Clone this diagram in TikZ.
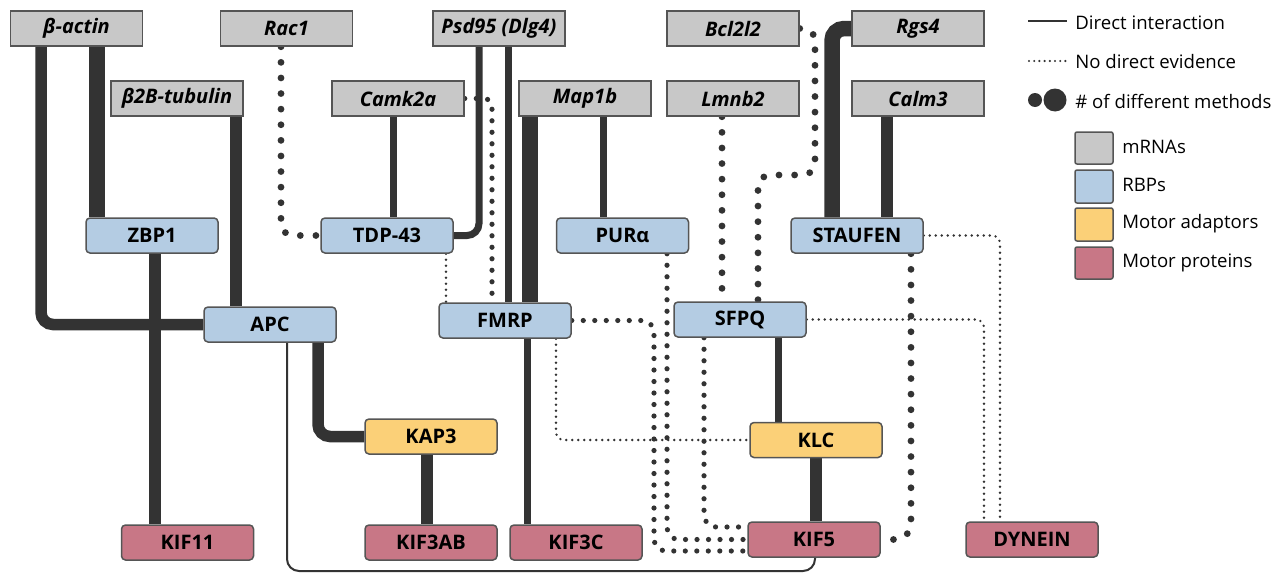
\documentclass[tikz,border=0pt]{standalone}
\usepackage{fontspec}
\setmainfont{Open Sans}
\usetikzlibrary{backgrounds}

\definecolor{mrnagray}{HTML}{C8C8C8}
\definecolor{rbpblue}{HTML}{B4CCE3}
\definecolor{adaptyellow}{HTML}{FBD078}
\definecolor{motorpink}{HTML}{C87786}
\definecolor{boxline}{HTML}{555555}
\definecolor{linkgray}{HTML}{333333}

\begin{document}
\begin{tikzpicture}[x=0.5pt,y=-0.5pt,
    box/.style={draw=boxline,line width=0.75pt,minimum width=66pt,minimum height=17.5pt,inner sep=0pt,
        font=\fontsize{10}{11}\selectfont\bfseries},
    mrna/.style={box,fill=mrnagray,font=\fontsize{10}{11}\selectfont\bfseries\itshape},
    rbp/.style={box,fill=rbpblue,rounded corners=2pt},
    adaptor/.style={box,fill=adaptyellow,rounded corners=2pt},
    motor/.style={box,fill=motorpink,rounded corners=2pt},
    fine/.style={draw=linkgray,line width=1pt},
    mid/.style={draw=linkgray,line width=3.5pt},
    wide/.style={draw=linkgray,line width=5.75pt},
    xwide/.style={draw=linkgray,line width=7.75pt},
    dotA/.style={draw=linkgray,line width=1.3pt,line cap=round,dash pattern=on 0pt off 3pt},
    dotB/.style={draw=linkgray,line width=2.6pt,line cap=round,dash pattern=on 0pt off 5.75pt},
    dotC/.style={draw=linkgray,line width=3.4pt,line cap=round,dash pattern=on 0pt off 7.8pt},
    legtext/.style={anchor=west,inner sep=0pt,font=\fontsize{9.3}{11}\selectfont}]

    \useasboundingbox (0,0) rectangle (1281,573);

    % mRNA 节点
    \node[mrna] (bactin) at (76.5,28.5) {β-actin};
    \node[mrna] (rac) at (286.5,28.5) {Rac1};
    \node[mrna] (psd) at (499,28.5) {Psd95 (Dlg4)};
    \node[mrna] (bcl) at (733,28.5) {Bcl2l2};
    \node[mrna] (rgs) at (918,28.5) {Rgs4};
    \node[mrna] (btub) at (177,98.5) {β2B-tubulin};
    \node[mrna] (camk) at (398,98.5) {Camk2a};
    \node[mrna] (mapb) at (585,98.5) {Map1b};
    \node[mrna] (lmnb) at (733,98.5) {Lmnb2};
    \node[mrna] (calm) at (918,98.5) {Calm3};

    % RBP 节点
    \node[rbp] (zbp) at (152,235.5) {ZBP1};
    \node[rbp] (tdp) at (387,235.5) {TDP-43};
    \node[rbp] (pura) at (622.5,235.5) {PURα};
    \node[rbp] (stau) at (857,235.5) {STAUFEN};
    \node[rbp] (apc) at (270,324.5) {APC};
    \node[rbp] (fmrp) at (505,320.5) {FMRP};
    \node[rbp] (sfpq) at (740,319.5) {SFPQ};

    % 马达接头与马达蛋白
    \node[adaptor] (kap) at (431,436.5) {KAP3};
    \node[adaptor] (klc) at (816,440) {KLC};
    \node[motor] (kif11) at (187.5,542.5) {KIF11};
    \node[motor] (kif3ab) at (431,542.5) {KIF3AB};
    \node[motor] (kif3c) at (576,542.5) {KIF3C};
    \node[motor] (kif5) at (814,539.5) {KIF5};
    \node[motor] (dyn) at (1032,539.5) {DYNEIN};

    % 连接线
    \begin{scope}[on background layer]
        \draw[wide,rounded corners=6pt] (41,0 |- bactin.south) |- (apc.west);
        \draw[xwide] (97,0 |- bactin.south) -- (97,0 |- zbp.north);
        \draw[wide] (236,0 |- btub.south) -- (236,0 |- apc.north);
        \draw[wide] (155,0 |- zbp.south) -- (155,0 |- kif11.north);
        \draw[mid] (393,0 |- camk.south) -- (393,0 |- tdp.north);
        \draw[mid,rounded corners=6pt] (479,0 |- psd.south) |- (tdp.east);
        \draw[mid] (508,0 |- psd.south) -- (508,0 |- fmrp.north);
        \draw[xwide] (530,0 |- mapb.south) -- (530,0 |- fmrp.north);
        \draw[mid] (527,0 |- fmrp.south) -- (527,0 |- kif3c.north);
        \draw[mid] (603,0 |- mapb.south) -- (603,0 |- pura.north);
        \draw[xwide,rounded corners=6pt] (rgs.west) -| (832,0 |- stau.north);
        \draw[wide] (887,0 |- calm.south) -- (887,0 |- stau.north);
        \draw[wide,rounded corners=6pt] (318,0 |- apc.south) |- (kap.west);
        \draw[wide] (427,0 |- kap.south) -- (427,0 |- kif3ab.north);
        \draw[mid] (778,0 |- sfpq.south) -- (778,0 |- klc.north);
        \draw[wide] (816,0 |- klc.south) -- (816,0 |- kif5.north);
        \draw[fine,rounded corners=6pt] (287,0 |- apc.south) -- (287,571) -- (815,571) -- (815,0 |- kif5.south);

        \draw[dotC,rounded corners=6pt] (281,0 |- rac.south) |- (tdp.west);
        \draw[dotB,rounded corners=4pt] (camk.east) -| (492,0 |- fmrp.north);
        \draw[dotA] (446,0 |- tdp.south) -- (446,0 |- fmrp.north);
        \draw[dotC,rounded corners=6pt] (bcl.east) -| (815,175) -| (758,0 |- sfpq.north);
        \draw[dotC] (722,0 |- lmnb.south) -- (722,0 |- sfpq.north);
        \draw[dotB,rounded corners=6pt] (fmrp.east) -| (654,551) -- (kif5.west |- 0,551);
        \draw[dotB,rounded corners=6pt] (667,0 |- pura.south) |- (kif5.west);
        \draw[dotB,rounded corners=6pt] (704,0 |- sfpq.south) |- (kif5.west |- 0,527);
        \draw[dotA,rounded corners=4pt] (556,0 |- fmrp.south) |- (klc.west);
        \draw[dotC,rounded corners=8pt] (911,0 |- stau.south) |- (kif5.east);
        \draw[dotA,rounded corners=4pt] (stau.east) -| (1000,0 |- dyn.north);
        \draw[dotA,rounded corners=4pt] (sfpq.east) -| (984,0 |- dyn.north);
    \end{scope}

    % 图例
    \draw[draw=linkgray,line width=1.2pt] (1028,21) -- (1067,21);
    \node[legtext] (ldirect) at (1075,23) {Direct interaction};
    \draw[dotA,line width=1.2pt,dash pattern=on 0pt off 2.6pt] (1029,61) -- (1066,61);
    \node[legtext] (lnone) at (1075,62) {No direct evidence};
    \fill[linkgray] (1035,100) circle (7);
    \fill[linkgray] (1055,100) circle (11.5);
    \node[legtext] (lmeth) at (1075,101) {\# of different methods};
    \filldraw[fill=mrnagray,draw=boxline,line width=0.75pt,rounded corners=1pt] (1075,132) rectangle (1113,164);
    \node[legtext] (lmrna) at (1122,147) {mRNAs};
    \filldraw[fill=rbpblue,draw=boxline,line width=0.75pt,rounded corners=1pt] (1075,170) rectangle (1113,203);
    \node[legtext] (lrbp) at (1122,185) {RBPs};
    \filldraw[fill=adaptyellow,draw=boxline,line width=0.75pt,rounded corners=1pt] (1075,208) rectangle (1113,241);
    \node[legtext] (ladapt) at (1122,224) {Motor adaptors};
    \filldraw[fill=motorpink,draw=boxline,line width=0.75pt,rounded corners=1pt] (1075,247) rectangle (1113,279);
    \node[legtext] (lmotor) at (1122,263) {Motor proteins};
\end{tikzpicture}
\end{document}
